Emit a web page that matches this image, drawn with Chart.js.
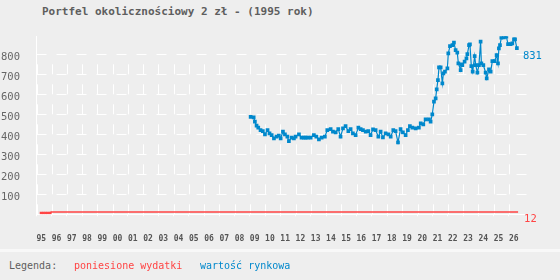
<!DOCTYPE html>
<html lang="pl">
<head>
<meta charset="UTF-8">
<title>Portfel okolicznościowy 2 zł - (1995 rok)</title>
<script src="https://cdn.jsdelivr.net/npm/chart.js"></script>
<style>
  html, body { margin: 0; padding: 0; background: #eeeeee; }
  #wrap { position: relative; width: 560px; height: 280px; overflow: hidden; background: #eeeeee; }
  #chart { position: absolute; left: 0; top: 0; }
  #title { position: absolute; left: 42px; top: 5px; font: bold 11px/13px "DejaVu Sans Mono", monospace; color: #5e5e5e; white-space: pre; }
  #sep { position: absolute; left: 0; top: 249px; width: 560px; height: 3px; background: #f8f8f8; }
  .leg { position: absolute; top: 260px; font: 10px/12px "DejaVu Sans Mono", monospace; white-space: pre; }
</style>
</head>
<body>
<div id="wrap">
  <div id="title">Portfel okolicznościowy 2 zł - (1995 rok)</div>
  <canvas id="chart" width="560" height="250"></canvas>
  <div id="sep"></div>
  <span class="leg" style="left:9px;color:#5e5e5e">Legenda:</span>
  <span class="leg" style="left:74px;color:#ff4444">poniesione wydatki</span>
  <span class="leg" style="left:200px;color:#0088cc">wartość rynkowa</span>
</div>

<script>
// osie
const tickYears = [1995, 1996, 1997, 1998, 1999, 2000, 2001, 2002, 2003, 2004, 2005,
    2006, 2007, 2008, 2009, 2010, 2011, 2012, 2013, 2014, 2015, 2016, 2017, 2018,
    2019, 2020, 2021, 2022, 2023, 2024, 2025, 2026];
const yTicks = [100, 200, 300, 400, 500, 600, 700, 800];

// poniesione wydatki
const costYears = [1995.3, 1995.45, 1995.6, 1995.75, 1995.9, 1995.96, 2026.6];
const costValues = [6, 6, 6, 6, 6, 12, 12];

// wartość rynkowa
const marketYears = [
    2009.05, 2009.25, 2009.33, 2009.44, 2009.55, 2009.70, 2009.85, 2009.99,
    2010.16, 2010.29, 2010.43, 2010.58, 2010.75, 2010.90,
    2011.02, 2011.17, 2011.30, 2011.46, 2011.56, 2011.74, 2011.89,
    2012.00, 2012.22, 2012.39, 2012.55, 2012.66, 2012.80, 2012.99,
    2013.20, 2013.36, 2013.53, 2013.71, 2013.92,
    2014.08, 2014.30, 2014.45, 2014.63, 2014.80, 2014.95,
    2015.11, 2015.28, 2015.46, 2015.61, 2015.76, 2015.94,
    2016.12, 2016.27, 2016.42, 2016.60, 2016.77, 2016.92,
    2017.08, 2017.25, 2017.43, 2017.58, 2017.73, 2017.91,
    2018.09, 2018.24, 2018.41, 2018.56, 2018.72, 2018.89,
    2019.04, 2019.22, 2019.37, 2019.50, 2019.66, 2019.88,
    2020.09, 2020.21, 2020.38, 2020.53, 2020.75, 2020.86, 2020.97,
    2021.08, 2021.19, 2021.26, 2021.34, 2021.41, 2021.52, 2021.63, 2021.70, 2021.80, 2021.96,
    2022.02, 2022.13, 2022.29, 2022.39, 2022.50, 2022.61, 2022.68, 2022.83, 2022.88, 2022.94,
    2023.09, 2023.21, 2023.27, 2023.38, 2023.44, 2023.53, 2023.62, 2023.75, 2023.82, 2023.93,
    2024.03, 2024.14, 2024.19, 2024.32, 2024.47, 2024.54, 2024.69, 2024.80, 2024.91,
    2025.06, 2025.19, 2025.28, 2025.34, 2025.41, 2025.50, 2025.67, 2025.83, 2025.94,
    2026.11, 2026.22, 2026.33, 2026.40, 2026.52
];
const marketValues = [
    487, 485, 463, 443, 433, 421, 416, 400,
    421, 405, 396, 380, 388, 393,
    380, 413, 400, 388, 366, 383, 380,
    388, 400, 383, 383, 383, 383, 383,
    396, 388, 375, 383, 388,
    421, 426, 413, 410, 426, 388,
    430, 441, 416, 426, 405, 396,
    433, 426, 421, 413, 416, 396,
    425, 421, 388, 413, 385, 405,
    400, 388, 421, 416, 360, 426,
    410, 396, 421, 441, 433, 430,
    433, 455, 450, 475, 475, 463, 500,
    563, 580, 625, 671, 735, 735, 655, 705, 713, 730,
    805, 841, 846, 858, 821, 808, 755, 721, 750, 746,
    763, 780, 801, 846, 850, 741, 713, 791, 746, 708,
    746, 863, 755, 746, 708, 680, 725, 713, 766,
    766, 796, 755, 830, 846, 883, 885, 888, 851,
    851, 855, 875, 875, 831
];

const RED = '#ff4444';
const BLUE = '#0088cc';
const MONO = '"DejaVu Sans Mono", monospace';

// kreskowana siatka + etykiety z ostatnią wartością
const gridAndLabels = {
    id: 'gridAndLabels',
    beforeDatasetsDraw(chart) {
        const { ctx, chartArea, scales: { x, y } } = chart;
        ctx.save();
        ctx.strokeStyle = '#ffffff';
        ctx.lineWidth = 1;
        ctx.setLineDash([10, 10]);
        yTicks.forEach(v => {
            const py = Math.round(y.getPixelForValue(v)) + 0.5;
            ctx.beginPath();
            ctx.moveTo(chartArea.left, py);
            ctx.lineTo(chartArea.right, py);
            ctx.stroke();
        });
        const yb = y.getPixelForValue(0);
        const yt = y.getPixelForValue(yTicks[yTicks.length - 1]);
        tickYears.forEach(v => {
            const px = Math.round(x.getPixelForValue(v)) + 0.5;
            ctx.beginPath();
            ctx.moveTo(px, yb);
            ctx.lineTo(px, yt);
            ctx.stroke();
        });
        ctx.restore();
    },
    afterDatasetsDraw(chart) {
        const ctx = chart.ctx;
        ctx.save();
        ctx.font = '10.5px ' + MONO;
        ctx.textBaseline = 'top';
        ctx.textAlign = 'left';
        chart.data.datasets.forEach((ds, i) => {
            const pts = chart.getDatasetMeta(i).data;
            const last = pts[pts.length - 1];
            const val = ds.data[ds.data.length - 1].y;
            ctx.fillStyle = ds.borderColor;
            ctx.fillText(String(val), last.x + 6, last.y + 2.5);
        });
        ctx.restore();
    }
};

new Chart(document.getElementById('chart'), {
    type: 'line',
    data: {
        datasets: [{
            label: 'poniesione wydatki',
            data: costYears.map((v, i) => ({ x: v, y: costValues[i] })),
            borderColor: RED,
            backgroundColor: RED,
            borderWidth: 1.5,
            pointStyle: 'rect',
            pointRadius: costYears.map((v, i) => i < costYears.length - 2 ? 1.9 : 0),
            pointBorderWidth: 0,
            tension: 0
        }, {
            label: 'wartość rynkowa',
            data: marketYears.map((v, i) => ({ x: v, y: marketValues[i] })),
            borderColor: BLUE,
            backgroundColor: BLUE,
            borderWidth: 1.2,
            pointStyle: 'rect',
            pointRadius: 2.6,
            pointBorderWidth: 0,
            tension: 0
        }]
    },
    options: {
        responsive: false,
        animation: false,
        layout: { padding: { top: 36.3, right: 32.3, left: 0, bottom: 0 } },
        plugins: {
            legend: { display: false },
            title: { display: false },
            tooltip: { enabled: false }
        },
        scales: {
            x: {
                type: 'linear',
                min: 1995,
                max: 2027.23,
                afterBuildTicks: scale => { scale.ticks = tickYears.map(v => ({ value: v })); },
                afterFit: scale => { scale.height = 35.7; },
                grid: { display: true, drawOnChartArea: false, drawTicks: true, tickLength: 2, color: '#ffffff' },
                border: { display: true, color: '#ffffff', width: 1 },
                ticks: {
                    autoSkip: false,
                    maxRotation: 0,
                    align: 'start',
                    padding: 18,
                    color: '#555555',
                    font: { family: MONO, size: 8, weight: 'bold' },
                    callback: v => String(v).slice(2)
                }
            },
            y: {
                min: 0,
                max: 890,
                afterBuildTicks: scale => { scale.ticks = yTicks.map(v => ({ value: v })); },
                afterFit: scale => { scale.width = 36.5; },
                grid: { display: false, drawTicks: false },
                border: { display: true, color: '#ffffff', width: 1 },
                ticks: {
                    padding: 16.5,
                    labelOffset: 3,
                    color: '#666666',
                    font: { family: MONO, size: 10.5 },
                    callback: v => String(v)
                }
            }
        }
    },
    plugins: [gridAndLabels]
});
</script>
</body>
</html>
